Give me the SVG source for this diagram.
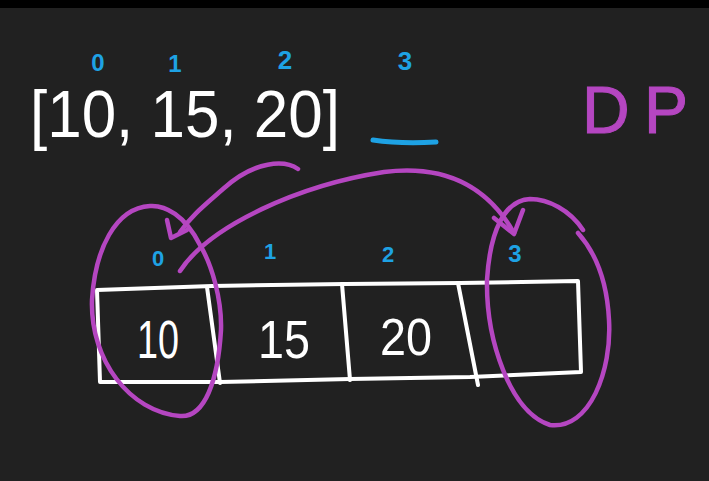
<svg xmlns="http://www.w3.org/2000/svg" width="709" height="481" viewBox="0 0 709 481">
<style>
.bg{fill:#212121}
.w{fill:none;stroke:#ffffff;stroke-width:4;stroke-linecap:round;stroke-linejoin:round}
.m{fill:none;stroke:#b546c1;stroke-width:4.5;stroke-linecap:round;stroke-linejoin:round}
.b{fill:none;stroke:#1ea2e4;stroke-width:5;stroke-linecap:round}
.tw{fill:#ffffff;font-family:"Liberation Sans",Arial,sans-serif}
.tb{fill:#1ea2e4;font-family:"Liberation Sans",Arial,sans-serif;font-weight:bold}
.tm{fill:#b546c1;stroke:#b546c1;stroke-width:1;font-family:"Liberation Sans",Arial,sans-serif}
</style>
<rect class="bg" x="0" y="0" width="709" height="481"/>
<rect x="0" y="0" width="709" height="8" fill="#000000"/>

<g id="top-array">
  <text class="tb" x="98" y="71" font-size="24" text-anchor="middle">0</text>
  <text class="tb" x="175" y="72" font-size="24" text-anchor="middle">1</text>
  <text class="tb" x="285" y="69" font-size="26" text-anchor="middle">2</text>
  <text class="tb" x="405" y="70" font-size="26" text-anchor="middle">3</text>
  <text class="tw" x="30" y="137" font-size="66" textLength="310" lengthAdjust="spacingAndGlyphs">[10, 15, 20]</text>
  <path class="b" d="M373,140 Q400,144 436,142"/>
</g>

<g id="dp-label">
  <text class="tm" x="582" y="133" font-size="66" textLength="106" lengthAdjust="spacing">DP</text>
</g>

<g id="table">
  <path class="w" d="M97,290 L212,286 L345,284 L460,283 L578,281 L581,372 L470,377 L350,379 L220,382 L100,382 Z"/>
  <path class="w" d="M207,287 L220,383 M342,284 L350,380 M458,283 L478,385"/>
</g>

<g id="cell-0">
  <text class="tb" x="158" y="266" font-size="22" text-anchor="middle">0</text>
  <text class="tw" x="137" y="358" font-size="54" textLength="42" lengthAdjust="spacingAndGlyphs">10</text>
</g>
<g id="cell-1">
  <text class="tb" x="270" y="259" font-size="22" text-anchor="middle">1</text>
  <text class="tw" x="258" y="358" font-size="54" textLength="52" lengthAdjust="spacingAndGlyphs">15</text>
</g>
<g id="cell-2">
  <text class="tb" x="388" y="262" font-size="22" text-anchor="middle">2</text>
  <text class="tw" x="380" y="355" font-size="52" textLength="52" lengthAdjust="spacingAndGlyphs">20</text>
</g>
<g id="cell-3">
  <text class="tb" x="515" y="262" font-size="24" text-anchor="middle">3</text>
</g>

<g id="loops">
  <path class="m" d="M200,245 C185,215 165,205 150,206 C115,208 95,250 92,300 C90,360 130,412 180,416 C205,418 218,380 221,330 C222,300 212,265 200,245"/>
  <path class="m" d="M583,230 C570,210 548,199 530,199 C505,200 490,230 487,280 C486,340 510,412 550,425 C590,430 612,370 609,320 C607,280 595,252 578,233"/>
</g>

<g id="connectors">
  <path class="m" d="M180,271 C210,225 300,185 384,172 C440,165 485,182 514,233"/>
  <path class="m" d="M494,218 L514,234 L523,210"/>
  <path class="m" d="M298,169 C285,160 255,160 223,189 C205,205 192,215 180,232"/>
  <path class="m" d="M167,220 L171,238 L187,230"/>
</g>
</svg>
